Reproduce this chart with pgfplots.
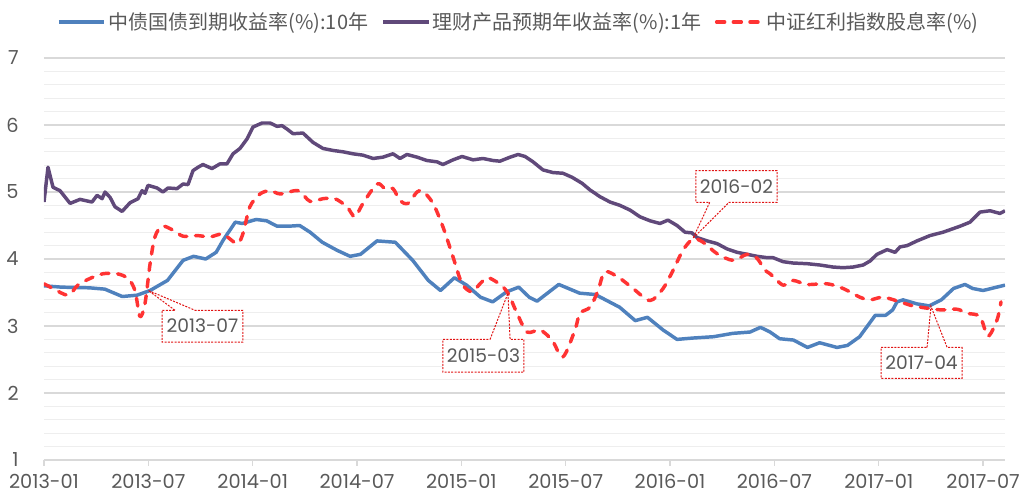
\documentclass[border=0pt]{standalone}
\usepackage{fontspec}
\setmainfont{Poppins}
\newfontfamily\cjk{Noto Sans CJK SC}
\usepackage{pgfplots}
\pgfplotsset{compat=1.18}
\definecolor{cblue}{RGB}{79,129,189}
\definecolor{cpurple}{RGB}{96,73,122}
\definecolor{cred}{RGB}{255,51,51}
\definecolor{tgray}{RGB}{89,89,89}
\definecolor{gmaj}{RGB}{217,217,217}
\definecolor{gmin}{RGB}{238,238,238}
\definecolor{bred}{RGB}{225,20,20}
\tikzset{ann/.style={draw=bred, line width=0.75pt, dash pattern=on 1.5pt off 1pt},
  anntext/.style={text=tgray, font=\fontsize{14}{16}\selectfont, inner sep=0pt}}
\begin{document}
\begin{tikzpicture}
\begin{axis}[
 scale only axis, width=720.75pt, height=301.5pt,
 xmin=0, xmax=55.26, ymin=1, ymax=7,
 axis x line*=bottom, axis y line*=left,
 x axis line style={draw=gmaj, line width=1pt},
 y axis line style={draw=none},
 xtick={0,6,...,54},
 xticklabels={2013-01,2013-07,2014-01,2014-07,2015-01,2015-07,2016-01,2016-07,2017-01,2017-07},
 ytick={1,...,7},
 minor y tick num=4,
 ymajorgrids, yminorgrids,
 major grid style={draw=gmaj, line width=0.9pt},
 minor grid style={draw=gmin, line width=0.9pt},
 tick align=outside,
 major tick length=4.5pt,
 x tick style={draw=gmaj, line width=1pt},
 y tick style={draw=none},
 minor tick style={draw=none},
 ticklabel style={font=\fontsize{14.5}{16}\selectfont, text=tgray},
 yticklabel style={xshift=-11pt},
 xticklabel style={yshift=-3pt},
 /pgf/number format/assume math mode=true,
 legend columns=3,
 legend style={at={(0.4943,1.0896)}, anchor=center, draw=none, fill=none,
   font=\cjk\fontsize{15}{18}\selectfont, text=tgray,
   /tikz/every even column/.append style={column sep=8pt}},
 legend image code/.code={\draw[#1] (0pt,0pt) -- (34pt,0pt);},
]
\addplot[cblue, line width=2.6pt, line join=round] table {
0 3.60
1 3.58
2.6 3.57
3.5 3.55
4.5 3.44
5.35 3.46
6.1 3.53
7.1 3.68
8.0 3.98
8.6 4.04
9.3 4.00
9.9 4.10
10.3 4.28
11.0 4.55
11.4 4.53
12.2 4.59
12.8 4.57
13.4 4.49
14.1 4.49
14.7 4.50
15.3 4.40
16.0 4.25
16.85 4.13
17.6 4.04
18.2 4.07
19.15 4.27
20.2 4.25
21.2 3.98
22.1 3.68
22.8 3.53
23.6 3.72
24.3 3.61
25.1 3.43
25.8 3.36
26.6 3.51
27.3 3.58
27.9 3.43
28.35 3.37
29.6 3.62
30.8 3.49
31.7 3.47
33.1 3.28
34.0 3.08
34.7 3.13
35.6 2.94
36.4 2.80
37.3 2.82
38.5 2.84
39.6 2.89
40.6 2.91
41.2 2.98
41.75 2.91
42.3 2.81
43.1 2.79
43.9 2.68
44.6 2.75
45.6 2.68
46.2 2.71
46.9 2.84
47.8 3.16
48.4 3.16
48.8 3.24
49.05 3.36
49.4 3.39
50.2 3.33
50.9 3.30
51.6 3.39
52.3 3.56
52.96 3.62
53.4 3.56
54.0 3.53
55.26 3.61
};
\addlegendentry{中债国债到期收益率(\%):10年}
\addplot[cpurple, line width=2.6pt, line join=round] table {
0 4.85
0.23 5.37
0.52 5.07
0.92 5.02
1.5 4.83
2.07 4.89
2.76 4.85
3.05 4.95
3.34 4.90
3.51 5.00
3.8 4.92
4.08 4.78
4.49 4.71
4.95 4.84
5.41 4.90
5.64 5.02
5.81 4.98
5.98 5.10
6.5 5.06
6.84 5.00
7.13 5.06
7.65 5.05
8.0 5.12
8.28 5.11
8.57 5.32
8.86 5.37
9.14 5.41
9.66 5.35
10.12 5.42
10.52 5.42
10.87 5.57
11.27 5.65
11.67 5.79
12.02 5.97
12.54 6.03
13.0 6.03
13.4 5.98
13.69 5.99
13.97 5.94
14.32 5.87
14.89 5.88
15.47 5.74
16.04 5.65
16.62 5.62
17.19 5.60
17.77 5.57
18.34 5.55
18.92 5.50
19.49 5.52
20.07 5.57
20.47 5.50
20.87 5.56
21.45 5.52
22.02 5.47
22.6 5.45
22.94 5.41
23.52 5.48
24.04 5.53
24.67 5.48
25.24 5.50
25.82 5.47
26.22 5.46
26.8 5.52
27.26 5.56
27.66 5.53
28.12 5.45
28.69 5.33
29.27 5.29
29.84 5.28
30.36 5.22
30.94 5.13
31.4 5.03
31.97 4.93
32.55 4.85
33.12 4.80
33.7 4.73
34.27 4.63
34.85 4.57
35.42 4.53
35.88 4.58
36.4 4.50
36.86 4.40
37.26 4.39
37.55 4.32
38.13 4.27
38.7 4.23
39.28 4.15
39.85 4.10
40.43 4.07
41.0 4.04
41.58 4.02
41.92 4.02
42.5 3.96
43.07 3.94
43.88 3.93
44.62 3.91
45.37 3.88
45.95 3.87
46.52 3.88
47.1 3.91
47.5 3.97
47.9 4.07
48.48 4.14
48.94 4.10
49.22 4.18
49.63 4.20
50.2 4.27
50.95 4.35
51.7 4.40
52.68 4.49
53.25 4.55
53.82 4.70
54.4 4.72
54.97 4.68
55.26 4.72
};
\addlegendentry{理财产品预期年收益率(\%):1年}
\addplot[cred, line width=2.6pt, dash pattern=on 6pt off 6.5pt, line cap=round, line join=round, smooth, tension=0.5] table {
0 3.63
0.52 3.56
1.38 3.46
1.95 3.61
2.65 3.71
3.39 3.78
4.2 3.78
4.83 3.71
5.23 3.53
5.52 3.14
5.81 3.34
6.1 3.93
6.38 4.33
6.79 4.49
7.42 4.43
8.0 4.34
8.8 4.35
9.55 4.33
10.29 4.37
11.1 4.23
11.44 4.38
11.84 4.78
12.42 4.97
13.0 5.02
13.6 4.97
14.6 5.02
15.3 4.86
16.04 4.90
16.73 4.90
17.42 4.78
17.88 4.63
18.34 4.83
19.15 5.12
19.61 5.05
20.07 5.05
20.47 4.87
20.93 4.83
21.45 5.00
21.79 5.01
22.37 4.83
22.94 4.48
23.52 4.03
24.04 3.63
24.61 3.51
25.07 3.63
25.53 3.72
26.22 3.62
26.68 3.49
27.2 3.19
27.78 2.91
28.52 2.94
29.21 2.79
29.84 2.54
30.53 2.94
30.82 3.19
31.4 3.28
31.86 3.53
32.26 3.81
33.12 3.71
33.87 3.56
34.85 3.38
35.6 3.56
36.17 3.83
36.74 4.13
37.32 4.30
37.9 4.25
38.7 4.08
39.62 3.98
40.43 4.07
41.0 4.01
41.46 3.83
41.75 3.78
42.5 3.61
43.07 3.68
43.88 3.62
45.03 3.63
45.95 3.56
46.92 3.43
47.5 3.39
48.25 3.43
49.22 3.36
49.97 3.30
50.95 3.26
51.64 3.24
52.51 3.25
53.08 3.19
53.82 3.14
54.28 2.85
54.8 3.09
55.03 3.36
};
\addlegendentry{中证红利指数股息率(\%)}
% annotations
\fill[white] (axis cs:6.79,2.76) rectangle (axis cs:11.44,3.235);
\draw[ann] (axis cs:7.53,3.235) -- (axis cs:6,3.53) -- (axis cs:8.68,3.235) -- (axis cs:11.44,3.235) -- (axis cs:11.44,2.76) -- (axis cs:6.79,2.76) -- (axis cs:6.79,3.235) -- cycle;
\node[anntext] at (axis cs:9.115,2.9975) {2013-07};
\fill[white] (axis cs:22.94,2.31) rectangle (axis cs:27.6,2.80);
\draw[ann] (axis cs:25.65,2.80) -- (axis cs:26.68,3.49) -- (axis cs:26.8,2.80) -- (axis cs:27.6,2.80) -- (axis cs:27.6,2.31) -- (axis cs:22.94,2.31) -- (axis cs:22.94,2.80) -- cycle;
\node[anntext] at (axis cs:25.27,2.555) {2015-03};
\fill[white] (axis cs:37.49,4.845) rectangle (axis cs:42.15,5.32);
\draw[ann] (axis cs:38.28,4.845) -- (axis cs:37.32,4.31) -- (axis cs:39.39,4.845) -- (axis cs:42.15,4.845) -- (axis cs:42.15,5.32) -- (axis cs:37.49,5.32) -- (axis cs:37.49,4.845) -- cycle;
\node[anntext] at (axis cs:39.82,5.0825) {2016-02};
\fill[white] (axis cs:48.13,2.22) rectangle (axis cs:52.79,2.68);
\draw[ann] (axis cs:50.78,2.68) -- (axis cs:51.0,3.295) -- (axis cs:51.93,2.68) -- (axis cs:52.79,2.68) -- (axis cs:52.79,2.22) -- (axis cs:48.13,2.22) -- (axis cs:48.13,2.68) -- cycle;
\node[anntext] at (axis cs:50.46,2.45) {2017-04};
\end{axis}
\pgfresetboundingbox
\useasboundingbox ([shift={(-33pt,-28.5pt)}]current axis.south west) rectangle ([shift={(13.5pt,43.5pt)}]current axis.north east);
\end{tikzpicture}
\end{document}
